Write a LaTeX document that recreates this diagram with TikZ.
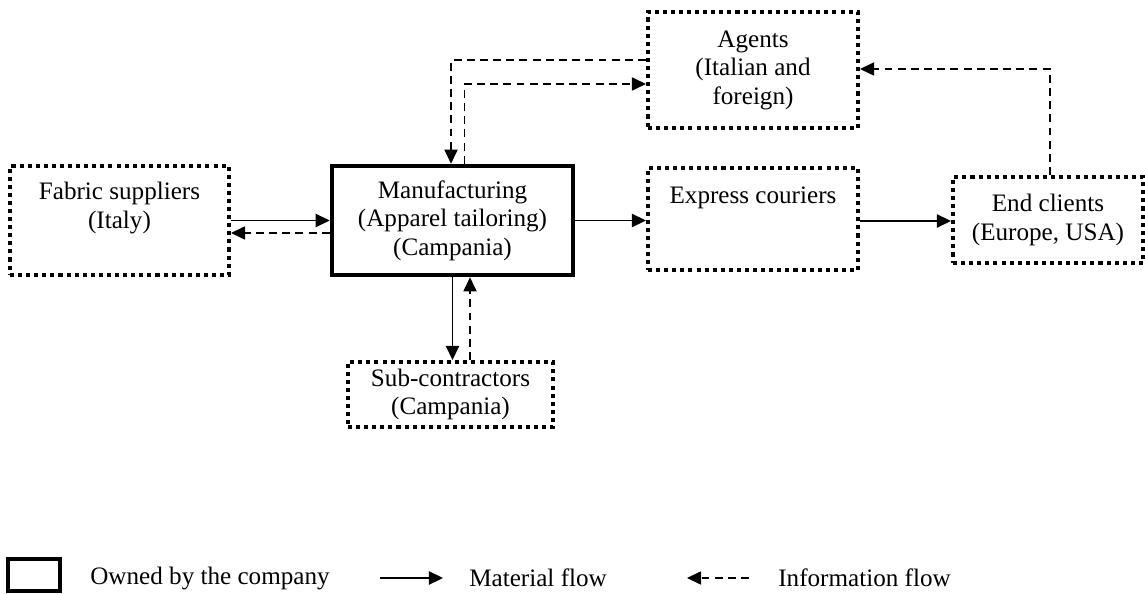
\documentclass[tikz,border=0pt]{standalone}
\usepackage{fontspec}
\setmainfont{Liberation Serif}
\usepackage{tikz}
\usetikzlibrary{arrows.meta, positioning}

\begin{document}
\begin{tikzpicture}[
    x=0.02cm, y=-0.02cm,
    font=\fontsize{14.3}{16.2}\selectfont,
    partner/.style={draw, line width=2.3pt, dash pattern=on 2.3pt off 2.3pt,
      inner sep=0pt},
    owned/.style={draw, line width=2.6pt, inner sep=0pt},
    txt/.style={align=center, inner sep=0pt},
    mat/.style={line width=1pt, -{Triangle[length=8pt, width=7.5pt]}},
    info/.style={line width=0.7pt, dash pattern=on 4.5pt off 3pt,
      -{Triangle[length=8pt, width=7.5pt]}},
  ]
    \useasboundingbox (0,0) rectangle (1145,594);
    % boxes
    \node[partner, minimum width=219*0.02cm, minimum height=109*0.02cm]
          (fab) at (119.5,220.5) {};
    \node[txt] (fabtxt) at (119.5,208) {Fabric suppliers\\(Italy)};
    \node[owned, txt, minimum width=241*0.02cm, minimum height=109*0.02cm]
          (man) at (452.5,220.5) {Manufacturing\\(Apparel tailoring)\\(Campania)};
    \node[partner, txt, minimum width=210*0.02cm, minimum height=116*0.02cm]
          (age) at (753,70) {Agents\\(Italian and\\foreign)};
    \node[partner, minimum width=210*0.02cm, minimum height=102*0.02cm]
          (exp) at (753,219) {};
    \node[txt] (exptxt) at (753,198) {Express couriers};
    \node[partner, txt, minimum width=190*0.02cm, minimum height=86*0.02cm]
          (end) at (1048,220) {End clients\\(Europe, USA)};
    \node[partner, txt, minimum width=205*0.02cm, minimum height=65*0.02cm]
          (sub) at (450.5,394.5) {Sub-contractors\\(Campania)};
    % material flows
    \draw[mat] (fab.east) -- (man.west);
    \draw[mat] (man.east) -- (man.east -| exp.west);
    \draw[mat] ([shift={(0,2)}]exp.east) -- ([shift={(0,2)}]exp.east -| end.west);
    \draw[mat] (man.south) -- (man.south |- sub.north);
    % information flows
    \draw[info] ([shift={(0,12.5)}]man.west) -- ([shift={(0,12.5)}]man.west -| fab.east);
    \draw[info] ([shift={(19.5,0)}]sub.north) -- ([shift={(19.5,0)}]sub.north |- man.south);
    \draw[info] ([shift={(0,-10)}]age.west) -| ([shift={(-1.5,0)}]man.north);
    \draw[info] ([shift={(12,0)}]man.north) |- ([shift={(0,14)}]age.west);
    \draw[info] ([shift={(2,0)}]end.north) |- ([shift={(0,-1)}]age.east);
    % legend
    \node[owned, line width=2.8pt, minimum width=52*0.02cm, minimum height=32*0.02cm]
          (keybox) at (34,575) {};
    \node[anchor=west, inner sep=0pt] (keyown) at (90,578) {Owned by the company};
    \coordinate (matA) at (380,578);
    \coordinate (matB) at (443,578);
    \draw[mat] (matA) -- (matB);
    \node[anchor=west, inner sep=0pt] (keymat) at (469,578) {Material flow};
    \coordinate (infA) at (749,578);
    \coordinate (infB) at (687,578);
    \draw[info] (infA) -- (infB);
    \node[anchor=west, inner sep=0pt] (keyinf) at (778,578) {Information flow};
  \end{tikzpicture}
\end{document}
